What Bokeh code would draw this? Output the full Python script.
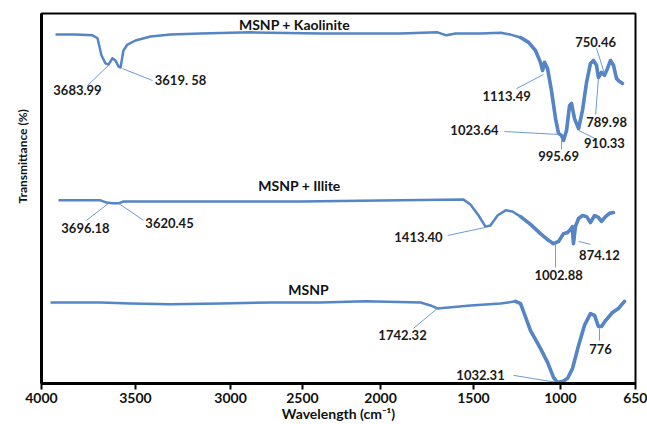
import math
import numpy as np
from bokeh.plotting import figure
from bokeh.models import Range1d, FixedTicker, Title
from bokeh.embed import file_html
from bokeh.resources import INLINE
from bokeh.core.properties import value

# ---------------- data (wavenumber cm-1, transmittance in offset % units) ----------------
kao_wn = [3921, 3808, 3712, 3684, 3662, 3639, 3622, 3600, 3583, 3566, 3554, 3538, 3515, 3470,
          3385, 3272, 3103, 2821, 2426, 1975, 1767, 1716, 1665, 1524, 1411, 1355, 1298, 1253,
          1214, 1186, 1174, 1163, 1146, 1124, 1101, 1084, 1067, 1056, 1039, 1022, 1011, 994,
          971, 949, 926, 904, 887, 870, 859, 842, 825, 808, 791, 774, 757, 740, 723]
kao_t = [94.3, 94.3, 94.1, 93.3, 88.7, 86.5, 86.2, 87.9, 87.3, 85.7, 85.4, 90.0, 91.6, 92.7,
         93.8, 94.3, 94.6, 94.9, 94.6, 94.6, 94.9, 94.1, 94.6, 94.6, 94.8, 94.3, 93.5, 92.2,
         90.0, 86.8, 84.6, 86.8, 85.1, 79.2, 71.6, 67.6, 67.0, 65.7, 68.4, 75.1, 75.7, 71.6,
         68.9, 73.8, 81.4, 86.5, 87.3, 86.0, 82.7, 84.1, 83.3, 85.1, 87.3, 86.0, 82.4, 81.6, 81.1]

ill_wn = [3904, 3724, 3667, 3633, 3600, 3566, 3538, 3103, 2539, 1975, 1620, 1581, 1535, 1496,
          1468, 1428, 1383, 1344, 1298, 1242, 1186, 1141, 1112, 1084, 1056, 1033, 1017, 1006,
          1000, 989, 971, 949, 926, 904, 881, 859, 842, 819, 797, 774]
ill_t = [49.5, 49.5, 49.5, 48.9, 48.7, 48.7, 49.2, 49.2, 49.2, 49.5, 49.7, 48.4, 45.4, 42.4,
         42.7, 45.4, 46.8, 46.5, 45.1, 43.0, 40.5, 38.7, 37.8, 38.4, 40.5, 40.8, 41.6, 42.4,
         37.8, 42.4, 44.6, 45.4, 45.1, 43.5, 45.4, 44.9, 43.8, 45.1, 46.0, 46.2]

msnp_wn = [3949, 3667, 3498, 3272, 2990, 2708, 2426, 2173, 1862, 1806, 1767, 1581, 1411, 1327,
           1298, 1242, 1186, 1146, 1112, 1090, 1062, 1033, 1005, 971, 938, 904, 881, 859, 842,
           819, 780, 746, 712]
msnp_t = [21.9, 21.9, 21.6, 21.4, 21.6, 21.9, 21.9, 22.2, 21.9, 21.1, 20.3, 21.1, 21.6, 22.2,
          21.6, 14.3, 9.5, 5.7, 1.6, 0.3, 0.5, 1.4, 4.1, 10.3, 15.7, 18.9, 18.4, 15.4, 15.4,
          17.0, 19.2, 20.3, 22.2]

series_names = ["MSNP + Kaolinite", "MSNP + Illite", "MSNP"]
name_wn = [2573, 2545, 2494]
name_t = [97.0, 53.5, 25.4]

peak_labels = ["3683.99", "3619. 58", "1113.49", "1023.64", "995.69", "910.33", "789.98", "750.46",
               "3696.18", "3620.45", "1413.40", "1002.88", "874.12",
               "1742.32", "776", "1032.31"]
peak_label_wn = [3797, 3216, 1377, 1558, 1084, 825, 813, 875,
                 3752, 3278, 1874, 1084, 853,
                 1964, 847, 1524]
peak_label_t = [79.2, 81.9, 77.6, 68.4, 61.6, 64.9, 70.8, 92.2,
                41.9, 43.5, 39.7, 29.2, 34.6,
                13.2, 9.2, 2.2]
leader_wn0 = [3622, 3543, 1169, 1389, 1067, 971, 859, 870, 3622, 3566, 1710, 1101, 971, 1767, 853, 1338]
leader_t0 = [86.0, 85.1, 83.5, 68.1, 66.2, 68.4, 82.4, 90.6, 48.7, 48.7, 40.0, 37.6, 38.4, 20.3, 14.9, 2.2]
leader_wn1 = [3741, 3374, 1321, 1079, 1067, 870, 875, 825, 3746, 3425, 1496, 1101, 904, 1902, 853, 1096]
leader_t1 = [80.5, 81.9, 79.7, 67.3, 63.3, 66.0, 72.7, 83.8, 44.1, 44.1, 42.2, 31.4, 37.6, 14.9, 11.6, 0.3]

# tick marks as drawn on the original (unevenly spaced) axis
x_tick_pos = [4000, 3470, 2934, 2528, 2088, 1564, 1073, 650]
x_tick_labels = ["4000", "3500", "3000", "2500", "2000", "1500", "1000", "650"]
x_title = "Wavelength (cm\u207b\u00b9)"
y_title = "Transmittance (%)"

# ---------------- figure ----------------
LINE = "#5585c5"
LEAD = "#6c9bd6"
FONT = "Lato"

p = figure(width=647, height=424, x_range=Range1d(4000, 650), y_range=Range1d(0, 100),
           output_backend="svg", toolbar_location=None,
           min_border_left=41, min_border_right=12, min_border_top=13, min_border_bottom=41)
p.background_fill_color = "white"
p.border_fill_color = "white"
p.outline_line_color = "black"
p.outline_line_width = 2
p.xgrid.visible = False
p.ygrid.visible = False

xa = p.xaxis[0]
xa.ticker = FixedTicker(ticks=x_tick_pos)
xa.major_label_overrides = {t: l for t, l in zip(x_tick_pos, x_tick_labels)}
xa.axis_line_width = 3
xa.axis_line_color = "black"
xa.major_tick_in = 0
xa.major_tick_out = 6
xa.major_tick_line_width = 2
xa.major_tick_line_color = "black"
xa.minor_tick_line_color = None
xa.major_label_text_font = FONT
xa.major_label_text_font_style = "bold"
xa.major_label_text_font_size = "14px"
xa.major_label_text_color = "#111111"
xa.major_label_standoff = 3
xa.axis_label = x_title
xa.axis_label_standoff = -1
xa.axis_label_text_font = FONT
xa.axis_label_text_font_style = "bold"
xa.axis_label_text_font_size = "14px"
xa.axis_label_text_color = "#111111"

ya = p.yaxis[0]
ya.ticker = FixedTicker(ticks=[])
ya.axis_line_width = 3
ya.axis_line_color = "black"
ya.major_tick_line_color = None
ya.minor_tick_line_color = None
ya.major_tick_in = 0
ya.major_label_text_font_size = "0px"

ytitle = Title(text=y_title, align="left", vertical_align="top", offset=180, standoff=20,
               text_font=FONT, text_font_style="bold", text_font_size="12px",
               text_color="#111111")
p.add_layout(ytitle, "left")

# spectra: thin over whole range, thicker in fingerprint region
for wn, t in [(kao_wn, kao_t), (ill_wn, ill_t), (msnp_wn, msnp_t)]:
    wn_a = np.array(wn)
    t_a = np.array(t)
    p.line(wn_a, t_a, line_color=LINE, line_width=2.5, line_join="round")
    m = wn_a <= 1330
    p.line(wn_a[m], t_a[m], line_color=LINE, line_width=3.6, line_join="round", line_cap="round")

# leader lines
p.segment(x0=leader_wn0, y0=leader_t0, x1=leader_wn1, y1=leader_t1, line_color=LEAD, line_width=1)

# peak labels
p.text(x=peak_label_wn, y=peak_label_t, text=peak_labels, text_font=value(FONT),
       text_font_style="bold", text_font_size="13px", text_color="#1a1a1a",
       text_align="center", text_baseline="middle")

# series names
p.text(x=name_wn, y=name_t, text=series_names, text_font=value(FONT),
       text_font_style="bold", text_font_size="14px", text_color="#111111",
       text_align="center", text_baseline="middle")

open("out.html", "w").write(file_html(p, INLINE))
